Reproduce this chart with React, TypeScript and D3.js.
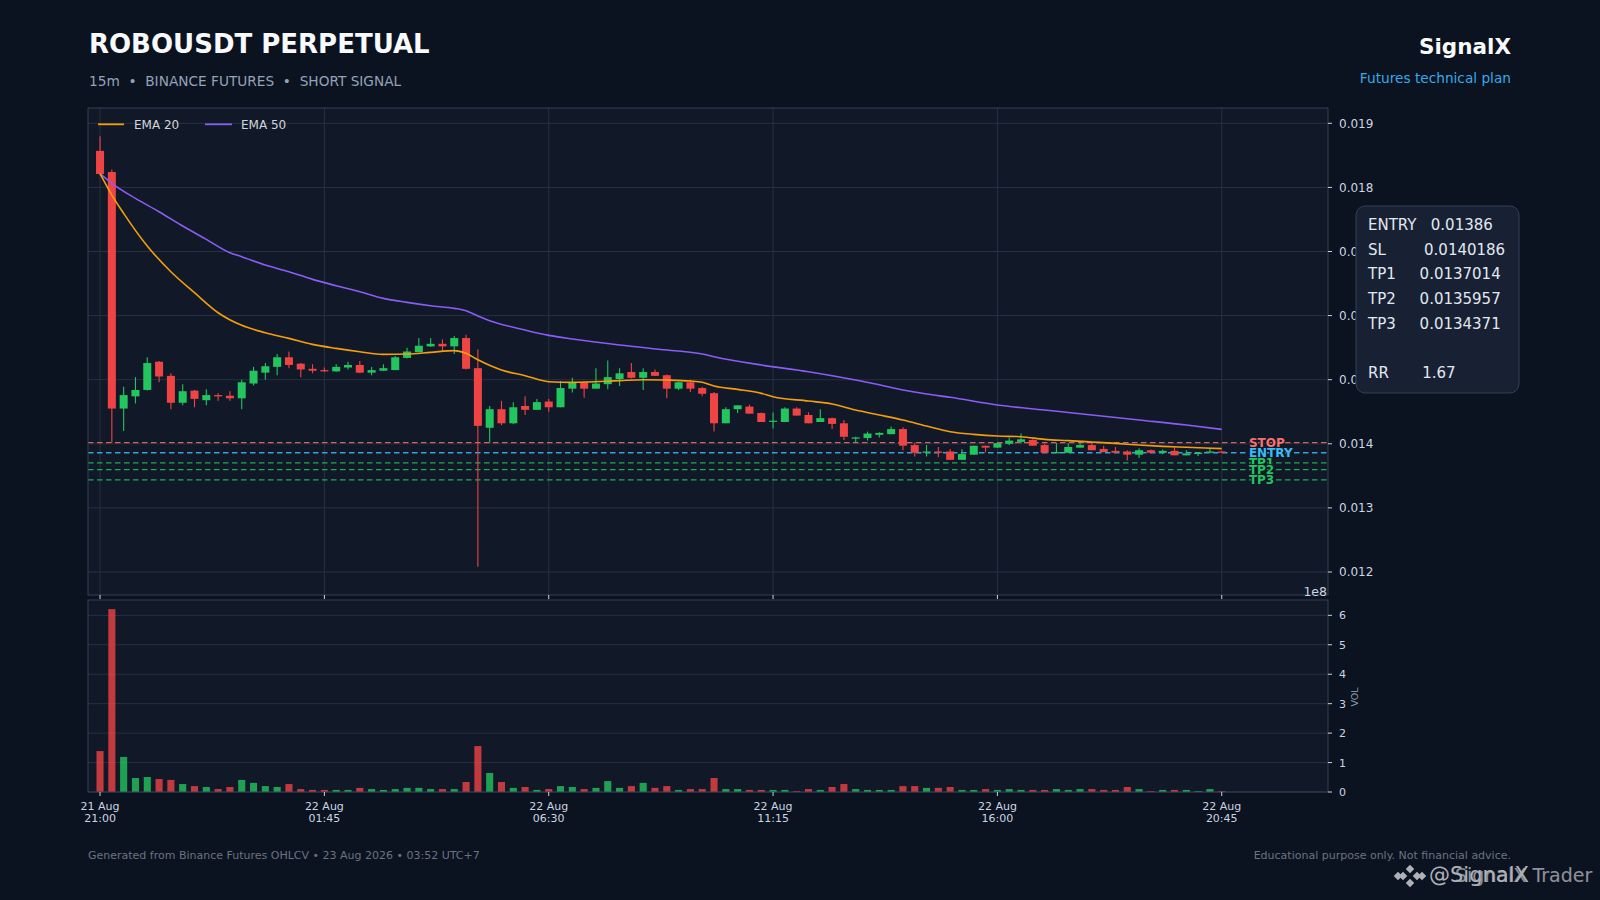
import React from 'react';
import * as d3 from 'd3';

// ---- data (15m candles, 21 Aug 21:00 -> 22 Aug 20:45) ----
const opens = [
  0.01857, 0.01824, 0.01455, 0.01474, 0.01484, 0.01528, 0.01506, 0.01464, 0.01483, 0.01468,
  0.01476, 0.01475, 0.01471, 0.01494, 0.01511, 0.0152, 0.01535, 0.01525, 0.01517, 0.01515,
  0.01513, 0.01519, 0.01523, 0.01511, 0.01514, 0.01515, 0.01534, 0.01543, 0.01552, 0.01556,
  0.01552, 0.01565, 0.01518, 0.01425, 0.01454, 0.01432, 0.01459, 0.01453, 0.01466, 0.01457,
  0.01486, 0.01496, 0.01486, 0.01493, 0.01501, 0.01512, 0.01503, 0.01512, 0.01507, 0.01486,
  0.01496, 0.01487, 0.01479, 0.01432, 0.01454, 0.01458, 0.01448, 0.01435, 0.01434, 0.01455,
  0.01445, 0.01434, 0.0144, 0.01432, 0.01408, 0.01409, 0.01414, 0.01415, 0.01423, 0.01398,
  0.01387, 0.01388, 0.01388, 0.01375, 0.01383, 0.01397, 0.01394, 0.014, 0.01403, 0.01406,
  0.01398, 0.01386, 0.01386, 0.01394, 0.01398, 0.01392, 0.01389, 0.01388, 0.01383, 0.0139,
  0.01386, 0.01389, 0.01382, 0.01384, 0.01386, 0.01388
];
const highs = [
  0.0188, 0.01828, 0.01489, 0.01504, 0.01535, 0.01529, 0.0151, 0.01493, 0.01484, 0.01485,
  0.01479, 0.01482, 0.015, 0.0152, 0.01526, 0.0154, 0.01544, 0.01526, 0.01524, 0.01519,
  0.01524, 0.01528, 0.01529, 0.0152, 0.01524, 0.01537, 0.0155, 0.01565, 0.01565, 0.01563,
  0.01568, 0.0157, 0.01547, 0.01459, 0.01467, 0.01465, 0.01474, 0.0147, 0.0147, 0.01498,
  0.01503, 0.01497, 0.01518, 0.0153, 0.01518, 0.01526, 0.01518, 0.01516, 0.01508, 0.01497,
  0.015, 0.01489, 0.01481, 0.01457, 0.0146, 0.01461, 0.01449, 0.01449, 0.01457, 0.01457,
  0.01449, 0.01454, 0.01441, 0.01437, 0.01411, 0.01419, 0.01418, 0.01427, 0.01426, 0.01402,
  0.01398, 0.01395, 0.01392, 0.01392, 0.01397, 0.01397, 0.01402, 0.0141, 0.01416, 0.01407,
  0.014, 0.01401, 0.01401, 0.01401, 0.01402, 0.01397, 0.01395, 0.0139, 0.01393, 0.01391,
  0.01391, 0.01394, 0.0139, 0.01387, 0.01393, 0.01389
];
const lows = [
  0.0182, 0.01402, 0.0142, 0.01463, 0.01483, 0.01496, 0.01454, 0.0146, 0.01457, 0.0146,
  0.01467, 0.01467, 0.01454, 0.01491, 0.015, 0.01507, 0.01518, 0.01504, 0.0151, 0.01512,
  0.01512, 0.01516, 0.0151, 0.01507, 0.01514, 0.01515, 0.01533, 0.01543, 0.01551, 0.01544,
  0.0154, 0.01516, 0.01208, 0.01402, 0.01429, 0.01431, 0.01445, 0.01453, 0.0145, 0.01457,
  0.0148, 0.01472, 0.01486, 0.01485, 0.0149, 0.01502, 0.01484, 0.01506, 0.01471, 0.01484,
  0.01481, 0.01474, 0.01419, 0.01432, 0.01448, 0.01447, 0.01434, 0.01424, 0.01434, 0.01444,
  0.01432, 0.01434, 0.01423, 0.01406, 0.01402, 0.01405, 0.0141, 0.01415, 0.0139, 0.0138,
  0.0138, 0.01379, 0.01375, 0.01375, 0.01383, 0.01387, 0.01394, 0.01398, 0.01401, 0.01397,
  0.01386, 0.01386, 0.01386, 0.01394, 0.0139, 0.01387, 0.01386, 0.01374, 0.01378, 0.01385,
  0.01384, 0.01382, 0.01382, 0.01381, 0.01386, 0.01386
];
const closes = [
  0.01821, 0.01455, 0.01476, 0.01484, 0.01526, 0.01505, 0.01464, 0.01482, 0.0147, 0.01476,
  0.01474, 0.01471, 0.01496, 0.01514, 0.01521, 0.01535, 0.01523, 0.01516, 0.01514, 0.01513,
  0.0152, 0.01523, 0.01511, 0.01515, 0.01518, 0.01535, 0.01544, 0.01553, 0.01556, 0.01552,
  0.01565, 0.01517, 0.01428, 0.01454, 0.01432, 0.01457, 0.01453, 0.01465, 0.01457, 0.01487,
  0.01496, 0.01486, 0.01494, 0.01504, 0.0151, 0.01503, 0.01512, 0.01506, 0.01486, 0.01496,
  0.01486, 0.01478, 0.01432, 0.01454, 0.0146, 0.01447, 0.01434, 0.01436, 0.01455, 0.01444,
  0.01432, 0.0144, 0.01431, 0.01411, 0.0141, 0.01416, 0.01417, 0.01423, 0.01397, 0.01386,
  0.01388, 0.01386, 0.01375, 0.01384, 0.01397, 0.01394, 0.01401, 0.01405, 0.01407, 0.01397,
  0.01386, 0.01387, 0.01395, 0.01398, 0.0139, 0.01387, 0.01386, 0.01383, 0.0139, 0.01386,
  0.01389, 0.01382, 0.01385, 0.01386, 0.01388, 0.01386
];
// volume in units of 1e8
const volumes = [
  1.39, 6.21, 1.19, 0.475, 0.51, 0.44, 0.41, 0.27, 0.2, 0.17,
  0.1, 0.17, 0.41, 0.31, 0.2, 0.17, 0.27, 0.1, 0.07, 0.07,
  0.07, 0.07, 0.14, 0.1, 0.07, 0.1, 0.14, 0.14, 0.1, 0.1,
  0.1, 0.34, 1.56, 0.645, 0.34, 0.14, 0.17, 0.07, 0.1, 0.2,
  0.17, 0.1, 0.14, 0.37, 0.14, 0.2, 0.31, 0.14, 0.2, 0.07,
  0.1, 0.1, 0.475, 0.1, 0.1, 0.07, 0.07, 0.07, 0.07, 0.03,
  0.1, 0.07, 0.17, 0.27, 0.1, 0.07, 0.07, 0.07, 0.2, 0.2,
  0.14, 0.14, 0.17, 0.07, 0.07, 0.1, 0.07, 0.1, 0.07, 0.07,
  0.07, 0.1, 0.07, 0.1, 0.1, 0.07, 0.07, 0.17, 0.1, 0.03,
  0.07, 0.07, 0.07, 0.03, 0.1, 0.03
];

// EMA curves: [candle index, price]
const ema20Pts: [number, number][] = [
  [0, 0.018214], [1, 0.01788], [2, 0.017595], [4, 0.017085], [6, 0.016685], [8, 0.016357],
  [10, 0.016045], [12, 0.015848], [14, 0.015733], [16, 0.015645], [18, 0.015551], [20, 0.015489],
  [22, 0.015437], [24, 0.015395], [26, 0.015401], [28, 0.015427], [30, 0.015453], [31, 0.015411],
  [32, 0.01531], [34, 0.015151], [36, 0.015063], [38, 0.014969], [40, 0.014959], [44, 0.014985],
  [46, 0.015], [48, 0.014995], [50, 0.014979], [51, 0.014959], [52, 0.014901], [54, 0.014849],
  [56, 0.014787], [57, 0.014735], [60, 0.014667], [62, 0.014621], [64, 0.014527], [66, 0.01445],
  [68, 0.014371], [70, 0.014277], [72, 0.014189], [74, 0.014147], [76, 0.014121], [78, 0.014111],
  [80, 0.014069], [82, 0.014049], [84, 0.014028], [86, 0.014007], [88, 0.013981], [90, 0.01396],
  [92, 0.013945], [95, 0.013924]
];
const ema50Pts: [number, number][] = [
  [0, 0.018214], [1, 0.018063], [3, 0.017829], [5, 0.017621], [7, 0.017397], [9, 0.017189],
  [11, 0.016981], [12, 0.016919], [14, 0.016789], [16, 0.016685], [18, 0.016565], [20, 0.016467],
  [22, 0.016373], [24, 0.016269], [26, 0.016207], [28, 0.016155], [30, 0.016113], [31, 0.016077],
  [32, 0.015993], [33, 0.015921], [36, 0.015775], [38, 0.015692], [40, 0.015635], [44, 0.015541],
  [48, 0.015463], [51, 0.015401], [52, 0.015359], [56, 0.015229], [60, 0.015125], [64, 0.014995],
  [66, 0.01492], [68, 0.014839], [70, 0.014777], [72, 0.014725], [76, 0.014605], [80, 0.014527],
  [84, 0.014449], [88, 0.014371], [92, 0.014293], [95, 0.014225]
];

const levelNames = ['STOP', 'ENTRY', 'TP1', 'TP2', 'TP3'];
const levelValues = [0.0140186, 0.01386, 0.0137014, 0.0135957, 0.0134371];

const infoRows = [
  'ENTRY   0.01386',
  'SL        0.0140186',
  'TP1     0.0137014',
  'TP2     0.0135957',
  'TP3     0.0134371',
  '',
  'RR       1.67'
];

const priceTicks = [0.012, 0.013, 0.014, 0.015, 0.016, 0.017, 0.018, 0.019];
const volTicks = [0, 1, 2, 3, 4, 5, 6];
const timeTickIdx = [0, 19, 38, 57, 76, 95];
const timeTickLabels = [
  ['21 Aug', '21:00'],
  ['22 Aug', '01:45'],
  ['22 Aug', '06:30'],
  ['22 Aug', '11:15'],
  ['22 Aug', '16:00'],
  ['22 Aug', '20:45']
];

// ---- styling ----
const BG = '#0b1220';
const PANEL = '#111827';
const GRID = '#273142';
const SPINE = '#334155';
const TICK_TXT = '#cbd5e1';
const UP = '#22c55e';
const DOWN = '#ef4444';
const levelColors = ['#f87171', '#38bdf8', '#22c55e', '#22c55e', '#22c55e'];
const FONT = 'DejaVu Sans, sans-serif';

const W = 1600;
const H = 900;
const L = 88;
const R = 1328;
const PT = 108;
const PB = 595;
const VT = 600;
const VB = 792;

const App: React.FC = () => {
  const x = d3.scaleLinear().domain([-1.02, 104]).range([L, R]);
  const y = d3.scaleLinear().domain([0.011641, 0.019239]).range([PB, PT]);
  const yv = d3.scaleLinear().domain([0, 6.52]).range([VB, VT]);

  const step = x(1) - x(0);
  const bodyW = step * 0.68;
  const volW = step * 0.6;

  const line = d3
    .line<[number, number]>()
    .x(d => x(d[0]))
    .y(d => y(d[1]))
    .curve(d3.curveMonotoneX);

  const labelX = x(97.3);

  return (
    <svg
      width={W}
      height={H}
      viewBox={`0 0 ${W} ${H}`}
      style={{ position: 'fixed', left: 0, top: 0, fontFamily: FONT }}
    >
      <rect width={W} height={H} fill={BG} />

      {/* header */}
      <text x={89} y={53} fill="#f8fafc" fontSize={26} fontWeight="bold">
        ROBOUSDT PERPETUAL
      </text>
      <text x={89} y={86} fill="#94a3b8" fontSize={13.7} style={{ whiteSpace: 'pre' }}>
        {'15m  •  BINANCE FUTURES  •  SHORT SIGNAL'}
      </text>
      <text x={1511} y={54} fill="#f8fafc" fontSize={21.5} fontWeight="bold" textAnchor="end">
        SignalX
      </text>
      <text x={1511} y={83} fill="#38a9e8" fontSize={13.7} textAnchor="end">
        Futures technical plan
      </text>

      {/* price panel */}
      <rect x={L} y={PT} width={R - L} height={PB - PT} fill={PANEL} />
      {priceTicks.map(t => (
        <line key={`pg${t}`} x1={L} x2={R} y1={y(t)} y2={y(t)} stroke={GRID} strokeWidth={1} />
      ))}
      {timeTickIdx.map(i => (
        <line key={`vg${i}`} x1={x(i)} x2={x(i)} y1={PT} y2={PB} stroke={GRID} strokeWidth={1} />
      ))}

      {/* level lines */}
      {levelValues.map((v, i) => (
        <line
          key={`lv${i}`}
          x1={L}
          x2={R}
          y1={y(v)}
          y2={y(v)}
          stroke={levelColors[i]}
          strokeWidth={1.3}
          strokeDasharray="5.5,3.5"
          opacity={0.85}
        />
      ))}

      {/* candles */}
      {closes.map((c, i) => {
        const o = opens[i];
        const col = c >= o ? UP : DOWN;
        const top = y(Math.max(o, c));
        const bot = y(Math.min(o, c));
        return (
          <g key={`c${i}`}>
            <line x1={x(i)} x2={x(i)} y1={y(highs[i])} y2={y(lows[i])} stroke={col} strokeWidth={1.1} />
            <rect x={x(i) - bodyW / 2} y={top} width={bodyW} height={Math.max(1.2, bot - top)} fill={col} />
          </g>
        );
      })}

      {/* EMAs */}
      <path d={line(ema50Pts) || ''} fill="none" stroke="#8b5cf6" strokeWidth={1.6} />
      <path d={line(ema20Pts) || ''} fill="none" stroke="#f59e0b" strokeWidth={1.6} />

      {/* level labels */}
      {levelNames.map((n, i) => (
        <text
          key={`ln${i}`}
          x={labelX}
          y={y(levelValues[i])}
          dy="0.36em"
          fill={levelColors[i]}
          fontSize={12}
          fontWeight="bold"
          stroke={PANEL}
          strokeWidth={2}
          style={{ paintOrder: 'stroke' }}
        >
          {n}
        </text>
      ))}

      {/* legend */}
      <line x1={98} x2={124} y1={124.3} y2={124.3} stroke="#f59e0b" strokeWidth={1.8} />
      <text x={134} y={124.3} dy="0.36em" fill="#d1d5db" fontSize={12}>EMA 20</text>
      <line x1={205} x2={232} y1={124.3} y2={124.3} stroke="#8b5cf6" strokeWidth={1.8} />
      <text x={241} y={124.3} dy="0.36em" fill="#d1d5db" fontSize={12}>EMA 50</text>

      <rect x={L} y={PT} width={R - L} height={PB - PT} fill="none" stroke={SPINE} strokeWidth={1} />

      {/* price axis */}
      {priceTicks.map(t => (
        <g key={`pt${t}`}>
          <line x1={R} x2={R + 4} y1={y(t)} y2={y(t)} stroke={TICK_TXT} strokeWidth={1} />
          <text x={R + 11} y={y(t)} dy="0.36em" fill={TICK_TXT} fontSize={12}>
            {d3.format('.3f')(t)}
          </text>
        </g>
      ))}
      {timeTickIdx.map(i => (
        <line key={`ptk${i}`} x1={x(i)} x2={x(i)} y1={PB} y2={PB + 4} stroke={TICK_TXT} strokeWidth={1} />
      ))}

      {/* volume panel */}
      <rect x={L} y={VT} width={R - L} height={VB - VT} fill={PANEL} />
      {volTicks.map(t => (
        <line key={`vgr${t}`} x1={L} x2={R} y1={yv(t)} y2={yv(t)} stroke={GRID} strokeWidth={1} />
      ))}
      {volumes.map((v, i) => (
        <rect
          key={`v${i}`}
          x={x(i) - volW / 2}
          y={yv(v)}
          width={volW}
          height={yv(0) - yv(v)}
          fill={closes[i] >= opens[i] ? UP : DOWN}
          opacity={0.8}
        />
      ))}
      <rect x={L} y={VT} width={R - L} height={VB - VT} fill="none" stroke={SPINE} strokeWidth={1} />
      {volTicks.map(t => (
        <g key={`vt${t}`}>
          <line x1={R} x2={R + 4} y1={yv(t)} y2={yv(t)} stroke={TICK_TXT} strokeWidth={1} />
          <text x={R + 11} y={yv(t)} dy="0.36em" fill={TICK_TXT} fontSize={11}>
            {t}
          </text>
        </g>
      ))}
      <text x={R - 1} y={596} fill={TICK_TXT} fontSize={12.5} textAnchor="end">1e8</text>
      <text
        x={1355}
        y={697}
        fill="#94a3b8"
        fontSize={9.5}
        textAnchor="middle"
        transform="rotate(-90 1355 697)"
        dy="0.36em"
      >
        VOL
      </text>

      {/* time axis */}
      {timeTickIdx.map((i, k) => (
        <g key={`tt${i}`}>
          <line x1={x(i)} x2={x(i)} y1={VB} y2={VB + 4} stroke={TICK_TXT} strokeWidth={1} />
          <text x={x(i)} y={810} fill={TICK_TXT} fontSize={11} textAnchor="middle">
            {timeTickLabels[k][0]}
          </text>
          <text x={x(i)} y={822} fill={TICK_TXT} fontSize={11} textAnchor="middle">
            {timeTickLabels[k][1]}
          </text>
        </g>
      ))}

      {/* trade plan box */}
      <rect x={1356} y={206} width={163} height={187} rx={9} fill="#172133" stroke="#334155" strokeWidth={1} />
      {infoRows.map((r, i) => (
        <text
          key={`ir${i}`}
          x={1368}
          y={230 + i * 24.7}
          fill="#e2e8f0"
          fontSize={15}
          style={{ whiteSpace: 'pre' }}
        >
          {r}
        </text>
      ))}

      {/* footer */}
      <text x={88} y={859} fill="#6b7280" fontSize={11}>
        Generated from Binance Futures OHLCV • 23 Aug 2026 • 03:52 UTC+7
      </text>
      <text x={1511} y={859} fill="#6b7280" fontSize={11} textAnchor="end">
        Educational purpose only. Not financial advice.
      </text>

      {/* watermark */}
      <g opacity={0.75} fill="#e5e7eb">
        {[
          [1410, 869],
          [1403, 876],
          [1417, 876],
          [1410, 883],
          [1398, 876],
          [1422, 876]
        ].map(([cx, cy], k) => (
          <rect
            key={`wm${k}`}
            x={cx - 3}
            y={cy - 3}
            width={6}
            height={6}
            transform={`rotate(45 ${cx} ${cy})`}
          />
        ))}
        <text x={1429} y={882} fontSize={21}>@SignalX</text>
        <text x={1455} y={882} fontSize={19} opacity={0.8}>SignalX Trader</text>
      </g>
    </svg>
  );
};

export default App;
